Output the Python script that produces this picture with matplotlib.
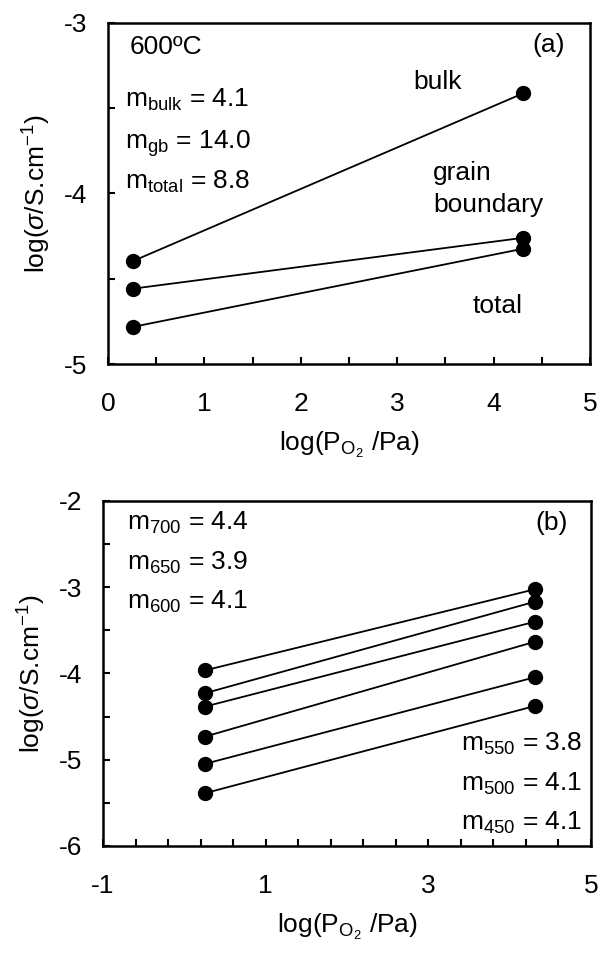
import matplotlib
matplotlib.use("Agg")
import matplotlib.pyplot as plt
from matplotlib.ticker import MultipleLocator

plt.rcParams['font.family'] = ['Liberation Sans', 'DejaVu Sans']
plt.rcParams['mathtext.fontset'] = 'custom'
plt.rcParams['mathtext.rm'] = 'Liberation Sans'
plt.rcParams['mathtext.it'] = 'Liberation Sans:italic'
plt.rcParams['mathtext.bf'] = 'Liberation Sans:bold'
plt.rcParams['axes.unicode_minus'] = False

# ── panel (a): 600 °C, bulk / grain boundary / total ──
x_a = [0.26, 4.305]
bulk = [-4.396, -3.413]
gb = [-4.558, -4.260]
total = [-4.782, -4.324]

# ── panel (b): bulk conductivity at several temperatures ──
x_b = [0.25, 4.31]
t700 = [-3.965, -3.024]
t650 = [-4.230, -3.168]
t600 = [-4.385, -3.400]
t550 = [-4.733, -3.632]
t500 = [-5.049, -4.044]
t450 = [-5.389, -4.377]

FS = 19
XLABEL = r'log(P$_{\mathrm{O}_2}$ /Pa)'
YLABEL = r'log($\sigma$/S.cm$^{-1}$)'

fig = plt.figure(figsize=(6.09, 9.61), dpi=100)
ax_a = fig.add_axes([0.1773, 0.6212, 0.7915, 0.3549])
ax_b = fig.add_axes([0.1691, 0.1197, 0.8013, 0.3590])


def style(ax):
    for s in ax.spines.values():
        s.set_linewidth(1.8)
    ax.tick_params(which='both', direction='in', top=False, right=False,
                   width=1.5, labelsize=FS)
    ax.tick_params(axis='y', which='both', length=5, pad=15)
    ax.tick_params(axis='x', which='both', length=5, pad=20)


for ys in (bulk, gb, total):
    ax_a.plot(x_a, ys, color='black', lw=1.3, marker='o', markersize=10)
ax_a.set_xlim(0, 5)
ax_a.set_ylim(-5, -3)
ax_a.xaxis.set_major_locator(MultipleLocator(1))
ax_a.xaxis.set_minor_locator(MultipleLocator(0.5))
ax_a.yaxis.set_major_locator(MultipleLocator(1))
ax_a.yaxis.set_minor_locator(MultipleLocator(0.5))
style(ax_a)
ax_a.set_xlabel(XLABEL, fontsize=FS, labelpad=10)
ax_a.set_ylabel(YLABEL, fontsize=FS, labelpad=8)

ax_a.text(0.22, -3.18, '600ºC', fontsize=FS, va='baseline')
ax_a.text(4.74, -3.17, '(a)', fontsize=FS, va='baseline', ha='right')
ax_a.text(3.17, -3.39, 'bulk', fontsize=FS, va='baseline')
ax_a.text(3.37, -3.92, 'grain', fontsize=FS, va='baseline')
ax_a.text(3.37, -4.11, 'boundary', fontsize=FS, va='baseline')
ax_a.text(3.78, -4.70, 'total', fontsize=FS, va='baseline')
ax_a.text(0.18, -3.49, r'm$_{\mathrm{bulk}}$ = 4.1', fontsize=FS, va='baseline')
ax_a.text(0.18, -3.735, r'm$_{\mathrm{gb}}$ = 14.0', fontsize=FS, va='baseline')
ax_a.text(0.18, -3.97, r'm$_{\mathrm{total}}$ = 8.8', fontsize=FS, va='baseline')

for ys in (t700, t650, t600, t550, t500, t450):
    ax_b.plot(x_b, ys, color='black', lw=1.3, marker='o', markersize=10)
ax_b.set_xlim(-1, 5)
ax_b.set_ylim(-6, -2)
ax_b.xaxis.set_major_locator(MultipleLocator(2, offset=1))
ax_b.xaxis.set_minor_locator(MultipleLocator(0.4, offset=0.2))
ax_b.yaxis.set_major_locator(MultipleLocator(1))
ax_b.yaxis.set_minor_locator(MultipleLocator(0.5))
style(ax_b)
ax_b.set_xlabel(XLABEL, fontsize=FS, labelpad=10)
ax_b.set_ylabel(YLABEL, fontsize=FS, labelpad=8)

ax_b.text(-0.70, -2.34, r'm$_{\mathrm{700}}$ = 4.4', fontsize=FS, va='baseline')
ax_b.text(-0.70, -2.80, r'm$_{\mathrm{650}}$ = 3.9', fontsize=FS, va='baseline')
ax_b.text(-0.70, -3.245, r'm$_{\mathrm{600}}$ = 4.1', fontsize=FS, va='baseline')
ax_b.text(4.71, -2.34, '(b)', fontsize=FS, va='baseline', ha='right')
ax_b.text(3.40, -4.90, r'm$_{\mathrm{550}}$ = 3.8', fontsize=FS, va='baseline')
ax_b.text(3.40, -5.36, r'm$_{\mathrm{500}}$ = 4.1', fontsize=FS, va='baseline')
ax_b.text(3.40, -5.81, r'm$_{\mathrm{450}}$ = 4.1', fontsize=FS, va='baseline')

fig.savefig('out.png', dpi=100)
